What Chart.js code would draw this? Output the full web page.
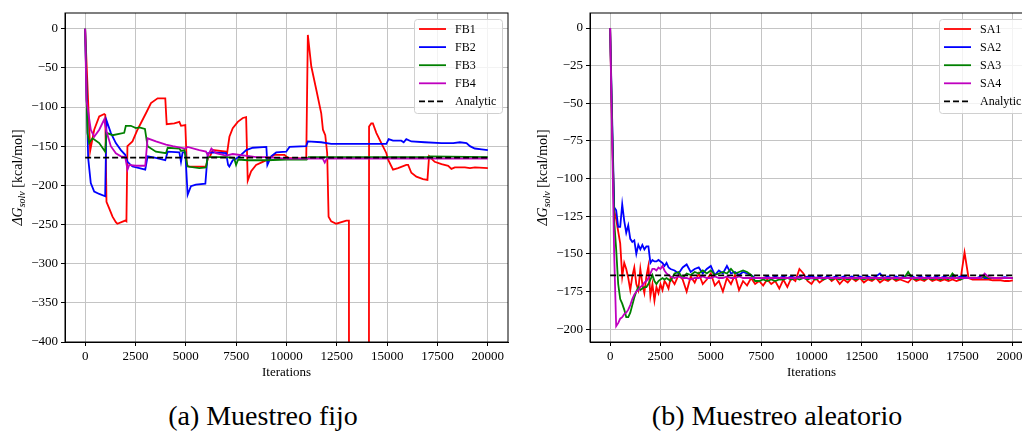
<!DOCTYPE html>
<html>
<head>
<meta charset="utf-8">
<script src="https://cdn.jsdelivr.net/npm/chart.js@4.4.0/dist/chart.umd.min.js"></script>
<style>
    html, body { margin: 0; padding: 0; background: #fff; overflow: hidden; width: 1022px; height: 432px; }
    #wrapA { position: absolute; left: 0; top: 0; width: 515px; height: 385px; }
    #wrapB { position: absolute; left: 515px; top: 0; width: 530px; height: 385px; }
    .cap { position: absolute; top: 402px; font-family: 'Liberation Serif', serif; font-size: 28px; line-height: 28px; text-align: center; white-space: nowrap; color: #000; }
</style>
</head>
<body>
<div id="wrapA"><canvas id="chartA"></canvas></div>
<div id="wrapB"><canvas id="chartB"></canvas></div>
<div class="cap" style="left:0;width:526px">(a) Muestreo fijo</div>
<div class="cap" style="left:520px;width:514px">(b) Muestreo aleatorio</div>
<script>
// ---- data: (a) fixed sampling ----
const fb1Iter = [0, 250, 450, 700, 950, 1000, 1060, 1190, 1360, 1525,
    1600, 1990, 2050, 2100, 2350, 2600, 3020, 3270, 3600, 3980,
    4050, 4430, 4680, 4760, 4975, 5050, 5200, 6000, 6100, 6200,
    6340, 7000, 7050, 7165, 7330, 7580, 7830, 7995, 8075, 8245,
    8490, 8820, 9070, 9400, 9900, 10080, 10980, 11060, 11230, 11480,
    11725, 11810, 11925, 12020, 12090, 12220, 12470, 12970, 13100, 13150,
    14050, 14100, 14210, 14290, 14460, 14710, 14960, 15040, 15290, 15540,
    15950, 16040, 16200, 16450, 16780, 17000, 17080, 17360, 17700, 18030,
    18190, 18360, 18860, 19110, 19360, 20000];
const fb1Val = [0, -156, -129, -112, -109, -110, -221, -229, -240, -247,
    -249, -245, -246, -150, -144, -129, -108, -95, -89, -89,
    -122, -121, -119, -124, -123, -175, -176, -176, -165, -163,
    -155, -157, -159, -138, -127, -119, -114, -113, -194, -182,
    -174, -170, -167, -161, -161, -165, -166, -8, -48, -78,
    -108, -129, -136, -159, -240, -246, -249, -245, -245, -3000,
    -3000, -125, -121, -121, -133, -146, -159, -167, -180, -178,
    -174, -174, -184, -189, -192, -193, -163, -170, -173, -175,
    -179, -177, -177, -178, -177, -178];

const fb2Iter = [0, 150, 280, 450, 700, 995, 1060, 1275, 1525, 1775,
    1990, 2105, 2350, 2690, 2985, 3100, 3515, 3980, 4100, 4680,
    4760, 4840, 4975, 5090, 5255, 5500, 5970, 6090, 6340, 7000,
    7100, 7160, 7330, 7500, 7660, 8000, 8325, 9000, 9050, 9240,
    9490, 9985, 10150, 10980, 11060, 11725, 12220, 14960, 15075, 15290,
    15700, 15820, 15950, 16200, 16865, 17700, 18280, 18610, 18940, 19110,
    19350, 19690, 20000];
const fb2Val = [0, -165, -197, -208, -211, -214, -117, -133, -146, -155,
    -161, -170, -176, -178, -180, -163, -165, -168, -157, -158,
    -170, -158, -158, -212, -201, -199, -198, -159, -158, -159,
    -174, -176, -168, -166, -163, -155, -152, -151, -174, -163,
    -158, -157, -151, -150, -144, -145, -147, -147, -141, -143,
    -143, -145, -141, -144, -145, -146, -146, -145, -146, -150,
    -153, -154, -155];

const fb3Iter = [0, 115, 200, 365, 700, 995, 1060, 1360, 1940, 2020,
    2270, 2520, 2690, 2970, 3100, 3515, 4015, 4100, 4680, 4760,
    4925, 5090, 5670, 6000, 6090, 7000, 7400, 7495, 7600, 8075,
    9000, 10000, 11000, 11100, 17000, 17100, 20000];
const fb3Val = [0, -133, -146, -140, -146, -157, -133, -136, -133, -124,
    -124, -127, -126, -128, -150, -157, -159, -152, -153, -156,
    -155, -176, -178, -177, -164, -164, -165, -174, -167, -168,
    -168, -167, -167, -164, -164, -163, -164];

const fb4Iter = [0, 65, 280, 450, 700, 945, 1060, 1275, 1525, 1775,
    1990, 2105, 2190, 2520, 2985, 3100, 3515, 4015, 4350, 4975,
    5090, 5670, 6000, 6100, 6270, 6500, 7000, 7330, 8500, 9000,
    10000, 11800, 11900, 12000, 20000];
const fb4Val = [0, -91, -129, -138, -129, -116, -131, -150, -159, -163,
    -164, -180, -174, -175, -175, -140, -144, -148, -150, -153,
    -151, -155, -157, -162, -153, -159, -162, -160, -164, -164,
    -166, -166, -171, -166, -166];

// ---- data: (b) random sampling, shared iteration grid ----
const saIter = [0, 100, 200, 300, 400, 500, 600, 700, 800, 900,
    1000, 1100, 1200, 1300, 1400, 1500, 1600, 1700, 1800, 1900,
    2000, 2100, 2200, 2300, 2400, 2500, 2600, 2700, 2800, 2900,
    3000, 3200, 3400, 3600, 3800, 4000, 4200, 4400, 4600, 4800,
    5000, 5200, 5400, 5600, 5800, 6000, 6200, 6400, 6600, 6800,
    7000, 7200, 7400, 7600, 7800, 8000, 8200, 8400, 8600, 8800,
    9000, 9200, 9400, 9600, 9800, 10000, 10200, 10400, 10600, 10800,
    11000, 11200, 11400, 11600, 11800, 12000, 12200, 12400, 12600, 12800,
    13000, 13200, 13400, 13600, 13800, 14000, 14200, 14400, 14600, 14800,
    15000, 15200, 15400, 15600, 15800, 16000, 16200, 16400, 16600, 16800,
    17000, 17200, 17400, 17600, 17800, 18000, 18200, 18400, 18600, 18800,
    19000, 19200, 19400, 19600, 19800, 20000];
const sa1Val = [0, -70, -121, -127, -135, -143, -165, -156, -160, -166,
    -174, -165, -159, -170, -174, -160, -170, -176, -165, -158,
    -178, -170, -181, -172, -176, -170, -174, -168, -170, -173,
    -166, -170, -164, -167, -175, -165, -169, -163, -170, -167,
    -163, -171, -168, -175, -166, -170, -164, -174, -168, -171,
    -166, -170, -168, -171, -167, -170, -168, -173, -167, -172,
    -166, -168, -160, -163, -168, -170, -166, -169, -167, -165,
    -168, -166, -170, -167, -169, -166, -168, -166, -169, -167,
    -168, -166, -169, -167, -168, -166, -168, -167, -168, -169,
    -166, -168, -167, -168, -166, -168, -167, -168, -167, -168,
    -167, -168, -167, -149, -166, -167, -167, -167, -167, -167,
    -167.5, -167.5, -167.5, -168, -168, -167.5];
const sa2Val = [0, -60, -119, -121, -132, -132, -117, -128, -136, -131,
    -140, -142, -141, -150, -144, -147, -144, -147, -145, -145,
    -156, -154, -155, -155, -154, -155, -156, -158, -156, -159,
    -160, -161, -163, -159, -157, -162, -160, -159, -163, -160,
    -158, -164, -161, -163, -158, -163, -162, -164, -162, -163,
    -164, -166, -166, -166, -165, -166, -165, -166, -165, -166,
    -165, -166, -165, -166, -165, -164.5, -166, -165, -166, -165,
    -166, -165, -166, -165, -166, -165, -166, -165, -166, -165,
    -166, -165, -163, -166, -165, -166, -165, -166, -165, -166,
    -165, -166, -165, -166, -165, -166, -165, -166, -165, -166,
    -165, -166, -165, -165, -166, -166, -166, -165, -166, -166,
    -166, -166, -166, -165.5, -166, -166];
const sa3Val = [0, -65, -128, -147, -170, -180, -183, -187, -192, -192,
    -189, -184, -179, -175, -172, -174, -173, -172, -172, -170,
    -167, -164, -168, -170, -168, -167, -166, -167, -166, -167,
    -168, -163, -162, -166, -163, -164, -162, -163, -161, -163,
    -161, -164, -163, -162, -163, -160, -163, -162, -161, -162,
    -164, -168, -168, -167, -168, -167, -168, -167, -167, -166,
    -167, -166, -167, -166, -167, -166, -167, -166, -167, -166,
    -167, -166, -167, -166, -167, -166, -167, -166, -167, -166,
    -167, -166, -167, -166, -167, -166, -167, -166, -166, -162,
    -166, -167, -166, -167, -166, -167, -166, -167, -166, -167,
    -163, -166, -167, -166, -166, -166, -166, -166, -165, -166,
    -166, -166, -166, -166, -166, -166];
const sa4Val = [0, -75, -150, -198, -196, -193, -192, -190, -189, -187,
    -184, -180, -177, -175, -174, -172, -171, -169, -168, -166,
    -163, -160, -160, -161, -159, -160, -158, -161, -163, -164,
    -165, -166, -165, -166, -166, -167, -166, -166, -165, -166,
    -166, -165, -166, -166, -165, -166, -166, -165, -166, -166,
    -166, -166, -166, -166, -166, -166, -166, -166, -166, -166,
    -166, -166, -165.5, -166, -166, -166, -166, -166, -166, -166,
    -166, -166, -166, -166, -166, -166, -166, -166, -166, -166,
    -166, -166, -166, -166, -166, -166, -166, -166, -166, -166,
    -166, -166, -166, -166, -166, -166, -166, -166, -166, -166,
    -166, -166, -166, -166, -166, -166, -166, -166, -163, -165.5,
    -166, -166, -166, -166, -166, -166];

const analyticIter = [0, 20000];
const analyticA = [-164.5, -164.5];
const analyticB = [-164.2, -164.2];

// ---- axes / labels ----
const xTicks = [0, 2500, 5000, 7500, 10000, 12500, 15000, 17500, 20000];
const yTicksA = [-400, -350, -300, -250, -200, -150, -100, -50, 0];
const yTicksB = [-200, -175, -150, -125, -100, -75, -50, -25, 0];
const labelsA = ['FB1', 'FB2', 'FB3', 'FB4', 'Analytic'];
const labelsB = ['SA1', 'SA2', 'SA3', 'SA4', 'Analytic'];
const seriesColors = ['#ff0000', '#0000ff', '#008000', '#bf00bf', '#000000'];
const xTitle = 'Iterations';
const yTitleMain = 'ΔG';
const yTitleSub = 'solv';
const yTitleUnit = ' [kcal/mol]';

const SERIF = "'Liberation Serif', 'Times New Roman', serif";

Chart.defaults.font.family = SERIF;
Chart.defaults.font.size = 13;
Chart.defaults.color = '#000';

function points(xs, ys) {
    return xs.map((x, i) => ({ x: x, y: ys[i] }));
}

function buildDatasets(labels, series) {
    return series.map((pts, i) => {
        const isRef = i === series.length - 1;
        return {
            label: labels[i],
            data: pts,
            borderColor: seriesColors[i],
            backgroundColor: seriesColors[i],
            borderWidth: 1.8,
            borderDash: isRef ? [6, 3] : [],
            pointRadius: 0,
            tension: 0,
            fill: false,
            order: series.length - i
        };
    });
}

function minusFmt(v) {
    return v < 0 ? '\u2212' + Math.abs(v) : String(v);
}

// frame, axis titles and legend drawn on top
const decorPlugin = {
    id: 'decor',
    afterDraw(chart) {
        const { ctx, chartArea } = chart;
        const a = chartArea;
        ctx.save();
        // frame
        ctx.strokeStyle = '#000';
        ctx.lineWidth = 1;
        ctx.strokeRect(a.left, a.top, a.right - a.left, a.bottom - a.top);

        // x title
        ctx.fillStyle = '#000';
        ctx.font = '13px ' + SERIF;
        ctx.textAlign = 'center';
        ctx.textBaseline = 'middle';
        ctx.fillText(xTitle, (a.left + a.right) / 2, a.bottom + 31);

        // y title (rotated, with subscript)
        ctx.translate(a.left - 48, (a.top + a.bottom) / 2);
        ctx.rotate(-Math.PI / 2);
        ctx.textAlign = 'left';
        ctx.textBaseline = 'alphabetic';
        const fMain = 'italic 14px ' + SERIF;
        const fSub = 'italic 10px ' + SERIF;
        const fReg = '14px ' + SERIF;
        ctx.font = fMain; const w1 = ctx.measureText(yTitleMain).width;
        ctx.font = fSub; const w2 = ctx.measureText(yTitleSub).width;
        ctx.font = fReg; const w3 = ctx.measureText(yTitleUnit).width;
        let x = -(w1 + w2 + w3) / 2;
        const base = 5;
        ctx.font = fMain; ctx.fillText(yTitleMain, x, base); x += w1;
        ctx.font = fSub; ctx.fillText(yTitleSub, x, base + 3); x += w2;
        ctx.font = fReg; ctx.fillText(yTitleUnit, x, base);
        ctx.restore();

        // legend
        const w = 88, h = 94;
        const left = a.right - 6 - w, top = a.top + 6;
        ctx.save();
        ctx.beginPath();
        ctx.roundRect(left + 0.5, top + 0.5, w, h, 3);
        ctx.fillStyle = 'rgba(255,255,255,0.8)';
        ctx.fill();
        ctx.strokeStyle = '#d0d0d0';
        ctx.lineWidth = 1;
        ctx.stroke();
        chart.data.datasets.forEach((ds, i) => {
            const y = top + 10 + i * 18.1;
            ctx.strokeStyle = ds.borderColor;
            ctx.lineWidth = ds.borderWidth;
            ctx.setLineDash(ds.borderDash);
            ctx.beginPath();
            ctx.moveTo(left + 5, y);
            ctx.lineTo(left + 32, y);
            ctx.stroke();
            ctx.setLineDash([]);
            ctx.fillStyle = '#000';
            ctx.font = '12px ' + SERIF;
            ctx.textAlign = 'left';
            ctx.textBaseline = 'middle';
            ctx.fillText(ds.label, left + 41, y + 0.5);
        });
        ctx.restore();
    }
};

function makeChart(id, datasets, yMin, yMax, yTicks, yAxisWidth, padRight) {
    const ctx = document.getElementById(id).getContext('2d');
    const tickFont = { family: SERIF, size: 13 };
    return new Chart(ctx, {
        type: 'line',
        data: { datasets: datasets },
        options: {
            responsive: true,
            maintainAspectRatio: false,
            animation: false,
            layout: { padding: { top: 13, right: padRight, bottom: 3, left: 0 } },
            plugins: { legend: { display: false }, tooltip: { enabled: false } },
            scales: {
                x: {
                    type: 'linear',
                    min: -1000,
                    max: 21000,
                    afterBuildTicks: (scale) => { scale.ticks = xTicks.map(v => ({ value: v })); },
                    afterFit: (scale) => { scale.height = 40; },
                    grid: { color: '#c4c4c4', lineWidth: 1, tickColor: '#000', tickLength: 4 },
                    border: { color: '#000', width: 1 },
                    ticks: {
                        autoSkip: false, maxRotation: 0, padding: 3, color: '#000',
                        font: tickFont,
                        callback: (v) => minusFmt(v)
                    }
                },
                y: {
                    type: 'linear',
                    min: yMin,
                    max: yMax,
                    afterBuildTicks: (scale) => { scale.ticks = yTicks.map(v => ({ value: v })); },
                    afterFit: (scale) => { scale.width = yAxisWidth; },
                    grid: { color: '#c4c4c4', lineWidth: 1, tickColor: '#000', tickLength: 4 },
                    border: { color: '#000', width: 1 },
                    ticks: {
                        autoSkip: false, padding: 3, color: '#000',
                        font: tickFont,
                        callback: (v) => minusFmt(v)
                    }
                }
            }
        },
        plugins: [decorPlugin]
    });
}

const dsA = buildDatasets(labelsA, [
    points(fb1Iter, fb1Val),
    points(fb2Iter, fb2Val),
    points(fb3Iter, fb3Val),
    points(fb4Iter, fb4Val),
    points(analyticIter, analyticA)
]);
const dsB = buildDatasets(labelsB, [
    points(saIter, sa1Val),
    points(saIter, sa2Val),
    points(saIter, sa3Val),
    points(saIter, sa4Val),
    points(analyticIter, analyticB)
]);

makeChart('chartA', dsA, -400, 20, yTicksA, 65, 7);
makeChart('chartB', dsB, -208.5, 10, yTicksB, 75, 12);
</script>
</body>
</html>
